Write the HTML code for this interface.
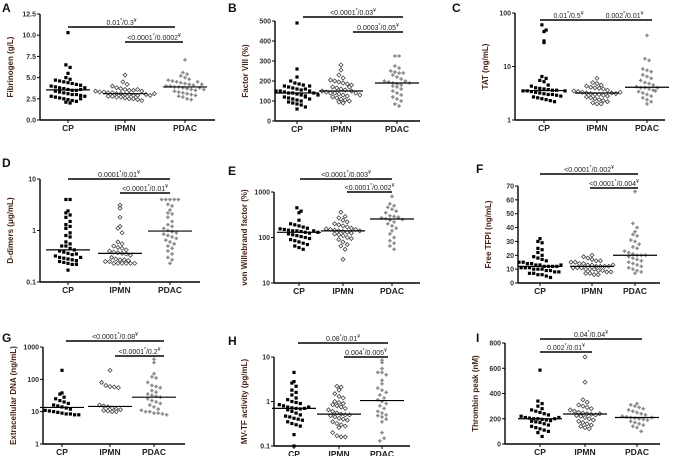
<!DOCTYPE html>
<html><head><meta charset="utf-8"><style>
html,body{margin:0;padding:0;background:#fff;}
svg{display:block;font-family:"Liberation Sans",Arial,sans-serif;}
</style></head><body>
<svg id="fig" width="675" height="456" viewBox="0 0 675 456" xmlns="http://www.w3.org/2000/svg"></svg>
<script>
// ---- data (per panel, per group) ----
const categories = ["CP","IPMN","PDAC"];
const A_CP=[10.3,6.5,6.2,5.5,5.0,4.8,4.7,4.6,4.5,4.4,4.3,4.2,4.0,3.9,3.8,3.7,3.6,3.5,3.5,3.4,3.3,3.2,3.1,3.0,3.0,2.9,2.8,2.7,2.6,2.5,2.4,2.3,2.2,2.1,2.0,3.6,3.8,4.1,2.5,2.8];
const A_IPMN=[5.3,4.5,4.2,4.0,3.8,3.7,3.6,3.5,3.4,3.3,3.3,3.2,3.2,3.1,3.1,3.0,3.0,2.9,2.9,2.8,2.8,2.7,2.7,2.6,2.5,2.5,2.4,2.3,3.5,3.4,3.0,2.9,3.6,3.1];
const A_PDAC=[7.1,5.6,5.4,5.2,5.0,4.8,4.7,4.6,4.5,4.4,4.3,4.2,4.1,4.0,4.0,3.9,3.9,3.8,3.7,3.6,3.5,3.4,3.3,3.2,3.1,3.0,2.9,2.8,2.7,2.5,2.4,4.5,3.8,4.2,3.6];
const B_CP=[490,260,220,200,190,185,180,175,170,165,160,155,150,150,145,140,140,135,130,125,120,115,110,105,100,95,90,85,80,70,60,150,140,160,130,120,110,175];
const B_IPMN=[280,255,230,215,205,200,195,190,185,180,170,165,160,155,150,145,140,140,135,130,125,120,115,110,105,100,95,90,150,140,130,170];
const B_PDAC=[325,325,275,265,250,245,240,230,220,210,200,195,190,185,180,175,170,160,150,140,130,120,110,100,85,75,200,190,240];
const C_CP=[60,48,45,30,28,6.5,6,5.5,5.2,4.5,4.3,4.0,3.9,3.8,3.7,3.6,3.5,3.5,3.4,3.3,3.2,3.1,3.0,3.0,2.9,2.8,2.7,2.6,2.5,2.4,2.3,2.2,3.6,3.5];
const C_IPMN=[6,5,4.8,4.5,4.3,4.1,4.0,3.9,3.8,3.6,3.5,3.4,3.3,3.2,3.1,3.0,3.0,2.9,2.8,2.7,2.6,2.5,2.4,2.3,2.2,2.1,2.0,2.0,3.2,3.1,3.3];
const C_PDAC=[38,14,13,9,8.5,8,7,6.5,6,5.5,5,4.8,4.5,4.2,4,4,3.8,3.6,3.4,3.2,3.0,2.8,2.6,2.4,2.2,2.0,4.0,3.5];
const D_CP=[4,4,2.4,2.2,2,1.8,1.5,1.3,1.2,1.1,0.9,0.8,0.75,0.6,0.55,0.5,0.5,0.45,0.42,0.4,0.38,0.36,0.34,0.32,0.3,0.29,0.28,0.27,0.26,0.25,0.24,0.23,0.22,0.22,0.17,0.3,0.35];
const D_IPMN=[3.1,2.7,1.8,1.2,1.1,0.9,0.6,0.55,0.5,0.47,0.45,0.42,0.4,0.38,0.37,0.36,0.35,0.33,0.3,0.28,0.27,0.27,0.26,0.25,0.25,0.23,0.23,0.23,0.23,0.23,0.23];
const D_PDAC=[4,4,4,4,4,3.2,3,2.5,2.2,2.1,1.8,1.5,1.3,1.2,1.1,1.0,0.95,0.9,0.85,0.8,0.75,0.7,0.65,0.6,0.55,0.5,0.45,0.4,0.35,0.3,0.27,0.23];
const E_CP=[450,380,350,240,200,190,180,170,160,155,150,145,140,140,135,130,125,120,115,110,105,100,95,90,85,80,75,70,65,60,55,140,130];
const E_IPMN=[360,290,270,240,220,200,190,180,170,160,155,150,145,140,135,130,125,120,115,110,100,95,90,80,70,65,55,33,150,140];
const E_PDAC=[800,550,500,460,420,380,350,300,290,280,270,260,240,220,200,180,160,140,120,100,85,75,65,55,270,250];
const F_CP=[32,30,29,25,24,22,20,19,18,17,16,15,15,14,14,13,13,12,12,12,11,11,11,10,10,10,9,9,8,8,7,7,6,6,5,4,12,13];
const F_IPMN=[20,19,18,17,16,16,15,15,14,14,13,13,12,12,12,11,11,11,10,10,10,9,9,8,8,7,7,6,6,12,13];
const F_PDAC=[66,43,40,37,35,34,31,30,28,26,25,23,22,21,20,20,19,18,17,16,15,14,13,12,11,10,9,8,7,20];
const G_CP=[190,38,35,28,25,22,20,18,16,15,14,13,12,11,10.5,10,9.5,9,8.5,8.5,8,8];
const G_IPMN=[190,80,65,60,58,55,16,15,14,13,12,11.5,11,10.5,10,10];
const G_PDAC=[420,330,150,120,110,80,65,60,55,45,40,35,32,30,28,25,22,20,18,16,14,12,11,10,10,9,9,8.5,8];
const H_CP=[4.5,2.8,2.6,2.2,1.8,1.6,1.4,1.2,1.1,1.0,0.95,0.9,0.85,0.8,0.75,0.72,0.7,0.68,0.65,0.6,0.55,0.5,0.47,0.45,0.42,0.4,0.38,0.35,0.32,0.3,0.28,0.18,0.1,0.7,0.75];
const H_IPMN=[2.2,2.1,1.8,1.5,1.3,1.2,1.0,0.95,0.9,0.85,0.8,0.75,0.7,0.65,0.6,0.55,0.52,0.5,0.5,0.48,0.45,0.42,0.4,0.38,0.35,0.32,0.3,0.28,0.26,0.2,0.17,0.16,0.16];
const H_PDAC=[8.5,7.5,5.5,4.5,4.5,4,3,2.5,2.0,1.8,1.6,1.4,1.2,1.1,1.0,0.9,0.8,0.7,0.6,0.55,0.5,0.48,0.45,0.4,0.35,0.2,0.13,0.15];
const I_CP=[585,340,320,300,280,270,260,250,240,230,220,210,205,200,200,195,190,185,180,175,170,160,150,140,130,120,110,100,90,60,200,210];
const I_IPMN=[690,490,350,330,310,300,290,280,270,260,250,245,240,235,230,225,220,210,200,190,180,170,160,150,140,130,120,240];
const I_PDAC=[320,310,300,290,280,270,260,250,240,230,220,215,210,205,200,195,190,180,170,160,150,140,130,100,210];

const ticksA=["0.0","2.5","5.0","7.5","10.0","12.5"];
const ticksB=["0","100","200","300","400","500"];
const ticksC=["1","10","100"];
const ticksD=["0.1","1","10"];
const ticksE=["10","100","1000"];
const ticksF=["0","10","20","30","40","50","60","70"];
const ticksG=["1","10","100","1000"];
const ticksH=["0.1","1","10"];
const ticksI=["0","200","400","600","800"];

const sigA=[["0.01","0.3"],["<0.0001","0.0002"]];
const sigB=[["<0.0001","0.03"],["0.0003","0.05"]];
const sigC=[["0.01","0.5"],["0.002","0.01"]];
const sigD=[["0.0001","0.01"],["<0.0001","0.01"]];
const sigE=[["<0.0001","0.003"],["<0.0001","0.002"]];
const sigF=[["<0.0001","0.002"],["<0.0001","0.004"]];
const sigG=[["<0.0001","0.08"],["<0.0001","0.2"]];
const sigH=[["0.08","0.01"],["0.004","0.005"]];
const sigI=[["0.04","0.04"],["0.002","0.01"]];

// ---- layout ----
const panels=[
 {id:"a",L:"A",lx:2,ly:12,ax:40,top:14,bot:120,right:215,log:false,min:0,max:12.5,ticks:ticksA,title:"Fibrinogen (g/L)",cx:[68,125,185],data:[A_CP,A_IPMN,A_PDAC],sig:sigA,sl:[[27,68,175,0,2],[42,125,183,1,2]]},
 {id:"b",L:"B",lx:228,ly:12,ax:275,top:21,bot:121,right:420,log:false,min:0,max:500,ticks:ticksB,title:"Factor VIII (%)",cx:[297,341,397],data:[B_CP,B_IPMN,B_PDAC],sig:sigB,sl:[[17,303,403,0,2],[32,353,403,1,2]]},
 {id:"c",L:"C",lx:452,ly:12,ax:515,top:13,bot:120,right:665,log:true,min:1,max:100,ticks:ticksC,title:"TAT (ng/mL)",cx:[544,597,647],data:[C_CP,C_IPMN,C_PDAC],sig:sigC,sl:[[20,540,597,0,1],[20,597,652,1,2]]},
 {id:"d",L:"D",lx:2,ly:167,ax:40,top:179,bot:282,right:200,log:true,min:0.1,max:10,ticks:ticksD,title:"D-dimers (μg/mL)",cx:[68,120,170],data:[D_CP,D_IPMN,D_PDAC],sig:sigD,sl:[[179,68,170,0,2],[193,120,170,1,2]]},
 {id:"e",L:"E",lx:228,ly:175,ax:274,top:192,bot:283,right:420,log:true,min:10,max:1000,ticks:ticksE,title:"von Willebrand factor (%)",cx:[299,343,392],data:[E_CP,E_IPMN,E_PDAC],sig:sigE,sl:[[179,300,392,0,2],[192,347,392,1,2]]},
 {id:"f",L:"F",lx:476,ly:173,ax:518,top:186,bot:283,right:660,log:false,min:0,max:70,ticks:ticksF,title:"Free TFPI (ng/mL)",cx:[540,592,635],data:[F_CP,F_IPMN,F_PDAC],sig:sigF,sl:[[174,540,638,0,2],[188,590,638,1,2]]},
 {id:"g",L:"G",lx:2,ly:342,ax:43,top:347,bot:444,right:185,log:true,min:1,max:1000,ticks:ticksG,title:"Extracellular DNA (ng/mL)",cx:[62,110,154],data:[G_CP,G_IPMN,G_PDAC],sig:sigG,sl:[[341,66,164,0,2],[356,115,164,1,2]]},
 {id:"h",L:"H",lx:228,ly:345,ax:274,top:357,bot:446,right:410,log:true,min:0.1,max:10,ticks:ticksH,title:"MV-TF activity (pg/mL)",cx:[294,339,382],data:[H_CP,H_IPMN,H_PDAC],sig:sigH,sl:[[343,298,388,0,2],[357,344,388,1,2]]},
 {id:"i",L:"I",lx:476,ly:342,ax:505,top:343,bot:444,right:660,log:false,min:0,max:800,ticks:ticksI,title:"Thrombin peak (nM)",cx:[540,585,637],data:[I_CP,I_IPMN,I_PDAC],sig:sigI,sl:[[339,540,642,0,2],[352,540,592,0,1]]}
];

const NS="http://www.w3.org/2000/svg";
const svg=document.getElementById("fig");
function mk(tag,attrs,parent){const e=document.createElementNS(NS,tag);for(const k in attrs)e.setAttribute(k,attrs[k]);(parent||svg).appendChild(e);return e;}
function median(a){const s=[...a].sort((x,y)=>x-y);const n=s.length;return n%2?s[(n-1)/2]:(s[n/2-1]+s[n/2])/2;}

panels.forEach(p=>{
  const g=mk("g",{});
  
  
  const yS=v=>{ if(p.log){const a=Math.log10(p.min),b=Math.log10(p.max);return p.bot-(Math.log10(v)-a)/(b-a)*(p.bot-p.top);} return p.bot-(v-p.min)/(p.max-p.min)*(p.bot-p.top);};
  const lt=mk("text",{x:p.lx,y:p.ly,"font-size":12,"font-weight":"bold",fill:"#111"},g);lt.textContent=p.L;
  
  
  const ya=mk("line",{x1:p.ax,y1:p.top,x2:p.ax,y2:p.bot,stroke:"#000","stroke-width":1.4},g);
  
  
  const xa=mk("line",{x1:p.ax,y1:p.bot,x2:p.right,y2:p.bot,stroke:"#000","stroke-width":1.4},g);
  
  
  p.ticks.forEach(t=>{
    const y=yS(parseFloat(t));
    mk("line",{x1:p.ax-3,y1:y,x2:p.ax,y2:y,stroke:"#000","stroke-width":1},g);
    const tx=mk("text",{x:p.ax-4,y:y+2.5,"font-size":7,"font-weight":"bold","text-anchor":"end",fill:"#333"},g);
    tx.textContent=t;
    
    
  });
  const my=(p.top+p.bot)/2, tx=p.ax-27;
  const tt=mk("text",{x:tx,y:my,"font-size":8,"font-weight":"bold","text-anchor":"middle",fill:"#4a2418",transform:`rotate(-90 ${tx} ${my})`},g);
  tt.textContent=p.title;
  
  
  categories.forEach((c,i)=>{
    const x=p.cx[i];
    mk("line",{x1:x,y1:p.bot,x2:x,y2:p.bot+3,stroke:"#000","stroke-width":1},g);
    const cl=mk("text",{x:x,y:p.bot+11,"font-size":8.5,"font-weight":"bold","text-anchor":"middle",fill:"#222"},g);
    cl.textContent=c;
    
    
    const vals=p.data[i];
    const bins={};
    vals.forEach(v=>{const k=Math.round(yS(v)/5.5);(bins[k]=bins[k]||[]).push(v);});
    Object.keys(bins).forEach(k=>{
      const arr=bins[k];
      arr.forEach((v,j)=>{
        const px=x+(j-(arr.length-1)/2)*4.2, py=yS(v);
        let m;
        if(i===0) m=mk("rect",{x:px-1.6,y:py-1.6,width:3.2,height:3.2,fill:"#000"},g);
        else if(i===1) m=mk("path",{d:`M${px} ${py-2}L${px+2} ${py}L${px} ${py+2}L${px-2} ${py}Z`,fill:"#fff",stroke:"#444","stroke-width":0.8},g);
        else m=mk("path",{d:`M${px-1.8} ${py}H${px+1.8}M${px} ${py-1.8}V${py+1.8}`,stroke:"#888","stroke-width":1.4},g);
        
        
      });
    });
    const md=yS(median(vals));
    const ml=mk("line",{x1:x-22,y1:md,x2:x+22,y2:md,stroke:"#000","stroke-width":1.2},g);
    
    
  });
  p.sl.forEach((s,k)=>{
    const [y,x1,x2]=s;
    const bl=mk("line",{x1:x1,y1:y,x2:x2,y2:y,stroke:"#000","stroke-width":1.5},g);
    
    
    const t=mk("text",{x:(x1+x2)/2,y:y-2,"font-size":7,"text-anchor":"middle",fill:"#222"},g);
    
    
    const [a,b]=p.sig[k];
    t.appendChild(document.createTextNode(a));
    const s1=mk("tspan",{dy:-3,"font-size":5},t);s1.textContent="*";
    const s2=mk("tspan",{dy:3},t);s2.textContent="/"+b;
    const s3=mk("tspan",{dy:-3,"font-size":5},t);s3.textContent="¥";
  });
});
</script>
</body></html>
